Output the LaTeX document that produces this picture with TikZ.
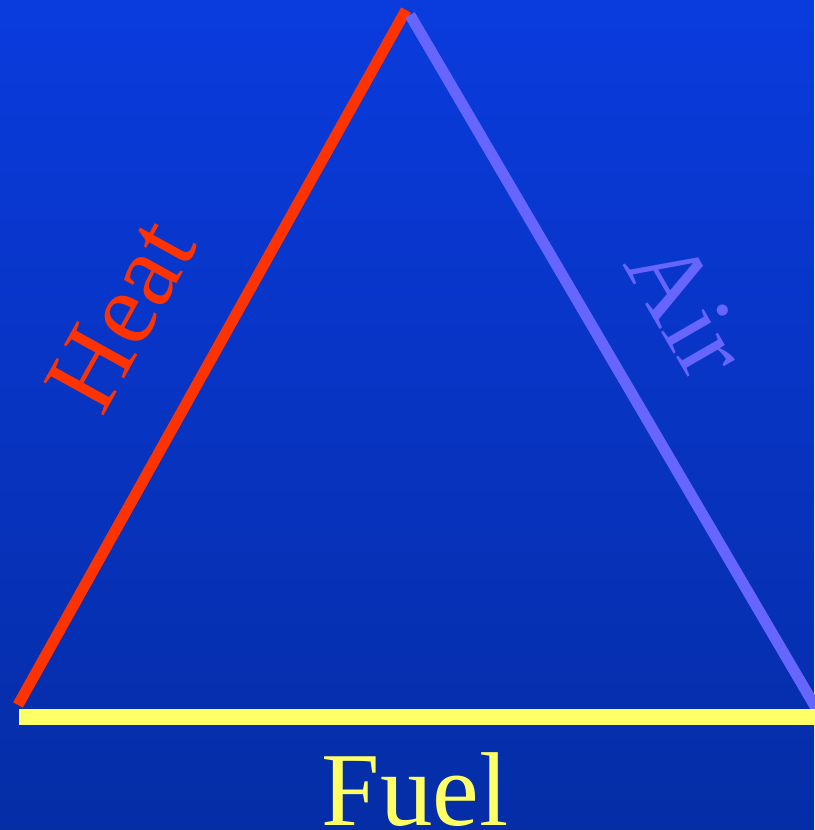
\documentclass[tikz,border=0pt]{standalone}
\usepackage{fontspec}
\setmainfont{Liberation Serif}
\usepackage{xcolor}
\definecolor{bgtop}{HTML}{0A3BDD}
\definecolor{bgbot}{HTML}{052DA6}
\definecolor{heatcol}{HTML}{FF3300}
\definecolor{aircol}{HTML}{6666FF}
\definecolor{fuelcol}{HTML}{FFFF66}

\begin{document}
\begin{tikzpicture}[x=1pt,y=-1pt,
    side/.style={line width=11pt},
    lbl/.style={font=\fontsize{105}{110}\selectfont,inner sep=0pt}]

\useasboundingbox (0,0) rectangle (814,830);
\shade[top color=bgtop,bottom color=bgbot] (0,0) rectangle (814,830);

\coordinate (heatlow) at (18,705);
\coordinate (heattop) at (406,10);
\coordinate (airtop) at (410,15);
\coordinate (airlow) at (816,708);
\coordinate (fuelleft) at (19,717);
\coordinate (fuelright) at (816,717);

\draw[side,heatcol] (heatlow) -- (heattop);
\draw[side,aircol] (airtop) -- (airlow);
\draw[line width=16pt,fuelcol] (fuelleft) -- (fuelright);

\node[lbl,text=heatcol,rotate=61] (heat) at (121,315) {Heat};
\node[lbl,text=aircol,rotate=-60] (air) at (688,308) {Air};
\node[lbl,text=fuelcol,anchor=base] (fuel) at (415,825) {Fuel};

\end{tikzpicture}
\end{document}
